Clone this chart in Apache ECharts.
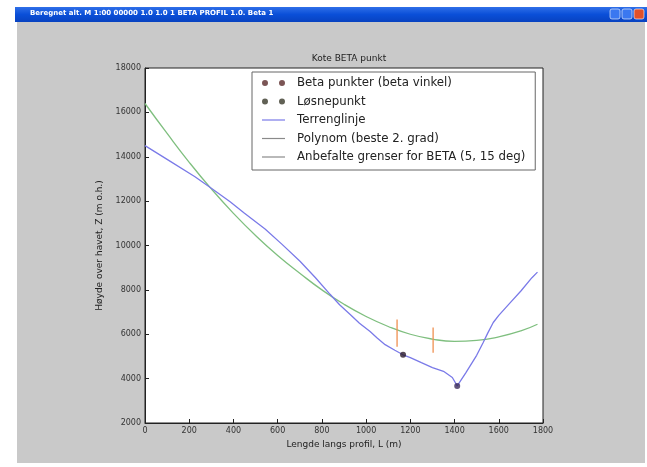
<!DOCTYPE html>
<html>
<head>
<meta charset="utf-8">
<script src="https://cdn.jsdelivr.net/npm/echarts@6/dist/echarts.min.js"></script>
<style>html,body{margin:0;padding:0;background:#fff;}#c{width:647px;height:467px;}</style>
</head>
<body>
<div id="c"></div>
<script>
// ---- data ----
const windowTitle = "Beregnet alt. M 1:00 00000 1.0 1.0 1 BETA PROFIL 1.0. Beta 1";
const chartTitle = "Kote BETA punkt";
const xAxisName = "Lengde langs profil, L (m)";
const yAxisName = "Høyde over havet, Z (m o.h.)";
const legendNames = ["Beta punkter (beta vinkel)", "Løsnepunkt", "Terrenglinje", "Polynom (beste 2. grad)", "Anbefalte grenser for BETA (5, 15 deg)"];

const terrainX = [0, 100, 226, 300, 385, 450, 543, 620, 701, 770, 837, 880, 928, 970, 1018, 1050, 1086, 1130, 1167, 1200, 1250, 1300, 1350, 1390, 1412, 1450, 1500, 1529, 1550, 1575, 1600, 1650, 1700, 1750, 1775];
const terrainY = [14500, 13880, 13100, 12580, 11970, 11450, 10740, 10050, 9290, 8560, 7800, 7330, 6890, 6500, 6120, 5830, 5530, 5280, 5075, 4950, 4720, 4500, 4330, 4050, 3670, 4250, 5050, 5620, 6050, 6530, 6850, 7400, 7950, 8550, 8800];

const polyX = [0, 100, 200, 300, 400, 500, 600, 700, 800, 900, 1000, 1100, 1200, 1300, 1400, 1500, 1600, 1700, 1775];
const polyY = [16400, 15050, 13750, 12550, 11450, 10450, 9550, 8750, 8000, 7350, 6800, 6350, 6000, 5780, 5680, 5720, 5880, 6150, 6450];

const betaX = [1167];
const betaY = [5075];
const releaseX = [1412];
const releaseY = [3670];

const limitX = [1140, 1303];
const limitTop = [6660, 6300];
const limitBottom = [5440, 5170];

const xTicks = {min: 0, max: 1800, interval: 200};
const yTicks = {min: 2000, max: 18000, interval: 2000};

// ---- build ----
const zip = (xs, ys) => xs.map((x, i) => [x, ys[i]]);
const limitData = [];
limitX.forEach((x, i) => {
  if (i > 0) limitData.push([x, '-']);
  limitData.push([x, limitTop[i]]);
  limitData.push([x, limitBottom[i]]);
});

const twoDots = 'path://M0,3a3,3 0 1,0 6,0a3,3 0 1,0 -6,0M17,3a3,3 0 1,0 6,0a3,3 0 1,0 -6,0';
const lineIcon = 'path://M0,0L23,0L23,1.2L0,1.2Z';

const FONT = 'DejaVu Sans';
const chart = echarts.init(document.getElementById('c'), null, {renderer: 'canvas'});
chart.setOption({
  backgroundColor: '#ffffff',
  animation: false,
  textStyle: {fontFamily: FONT},
  graphic: [
    {type: 'rect', z: -100, shape: {x: 17, y: 22, width: 628, height: 441}, style: {fill: '#c9c9c9'}},
    {type: 'rect', z: -99, shape: {x: 15, y: 7, width: 632, height: 15},
      style: {fill: new echarts.graphic.LinearGradient(0, 0, 0, 1, [{offset: 0, color: '#2f6fe8'}, {offset: 0.5, color: '#0a4fd8'}, {offset: 1, color: '#0842c0'}])}},
    {type: 'text', z: -98, left: 30, top: 10, style: {text: windowTitle, fill: '#ffffff', font: 'bold 7px DejaVu Sans'}},
    {type: 'rect', z: -98, shape: {x: 610, y: 9, width: 10, height: 10, r: 2}, style: {fill: '#3a78f0', stroke: '#ffffff', lineWidth: 0.6}},
    {type: 'rect', z: -98, shape: {x: 622, y: 9, width: 10, height: 10, r: 2}, style: {fill: '#3a78f0', stroke: '#ffffff', lineWidth: 0.6}},
    {type: 'rect', z: -98, shape: {x: 634, y: 9, width: 10, height: 10, r: 2}, style: {fill: '#e0502a', stroke: '#ffffff', lineWidth: 0.6}}
  ],
  title: {
    text: chartTitle, left: 344, top: 49, textAlign: 'center',
    textStyle: {fontSize: 9, fontWeight: 'normal', color: '#222', fontFamily: FONT}
  },
  legend: {
    orient: 'vertical', left: 252, top: 72,
    backgroundColor: '#ffffff', borderColor: '#666', borderWidth: 1,
    padding: [5, 10, 7, 10], itemGap: 6.5, itemWidth: 23, itemHeight: 12,
    textStyle: {fontSize: 11.8, color: '#222', fontFamily: FONT, padding: [0, 0, 0, 7]},
    data: [
      {name: legendNames[0], icon: twoDots, itemStyle: {color: '#5a2a2a'}},
      {name: legendNames[1], icon: twoDots, itemStyle: {color: '#3a3a2a'}},
      {name: legendNames[2], icon: lineIcon, itemStyle: {color: '#7a7ae8'}},
      {name: legendNames[3], icon: lineIcon, itemStyle: {color: '#8a8a8a'}},
      {name: legendNames[4], icon: lineIcon, itemStyle: {color: '#8a8a8a'}}
    ]
  },
  grid: {
    left: 145, right: 104, top: 68, bottom: 44,
    show: true, backgroundColor: '#ffffff', borderColor: '#222', borderWidth: 1, containLabel: false
  },
  xAxis: {
    type: 'value', min: xTicks.min, max: xTicks.max, interval: xTicks.interval,
    name: xAxisName, nameLocation: 'middle', nameGap: 13,
    nameTextStyle: {fontSize: 9, color: '#222', fontFamily: FONT},
    axisLine: {show: true, onZero: false, lineStyle: {color: '#222'}},
    axisTick: {show: true, inside: true, length: 4, lineStyle: {color: '#222'}},
    axisLabel: {fontSize: 8, color: '#333', margin: 4, fontFamily: FONT, formatter: v => String(v)},
    splitLine: {show: false}
  },
  yAxis: {
    type: 'value', min: yTicks.min, max: yTicks.max, interval: yTicks.interval,
    name: yAxisName, nameLocation: 'middle', nameGap: 25, nameRotate: 90,
    nameTextStyle: {fontSize: 9, color: '#222', fontFamily: FONT},
    axisLine: {show: true, onZero: false, lineStyle: {color: '#222'}},
    axisTick: {show: true, inside: true, length: 4, lineStyle: {color: '#222'}},
    axisLabel: {fontSize: 8, color: '#333', margin: 4, fontFamily: FONT, formatter: v => String(v)},
    splitLine: {show: false}
  },
  series: [
    {name: legendNames[2], type: 'line', data: zip(terrainX, terrainY), showSymbol: false, symbol: 'none',
      lineStyle: {color: '#7a7ae8', width: 1.3}, itemStyle: {color: '#7a7ae8'}, z: 3},
    {name: legendNames[3], type: 'line', data: zip(polyX, polyY), showSymbol: false, symbol: 'none', smooth: true,
      lineStyle: {color: '#7fbf7f', width: 1.3}, itemStyle: {color: '#7fbf7f'}, z: 2},
    {name: legendNames[4], type: 'line', data: limitData, showSymbol: false, symbol: 'none', connectNulls: false,
      lineStyle: {color: '#f09050', width: 1.3}, itemStyle: {color: '#f09050'}, z: 4},
    {name: legendNames[0], type: 'scatter', data: zip(betaX, betaY), symbol: 'circle', symbolSize: 6,
      itemStyle: {color: '#2a1a2a'}, z: 5},
    {name: legendNames[1], type: 'scatter', data: zip(releaseX, releaseY), symbol: 'circle', symbolSize: 6,
      itemStyle: {color: '#3a2a5a'}, z: 5}
  ]
});
</script>
</body>
</html>
